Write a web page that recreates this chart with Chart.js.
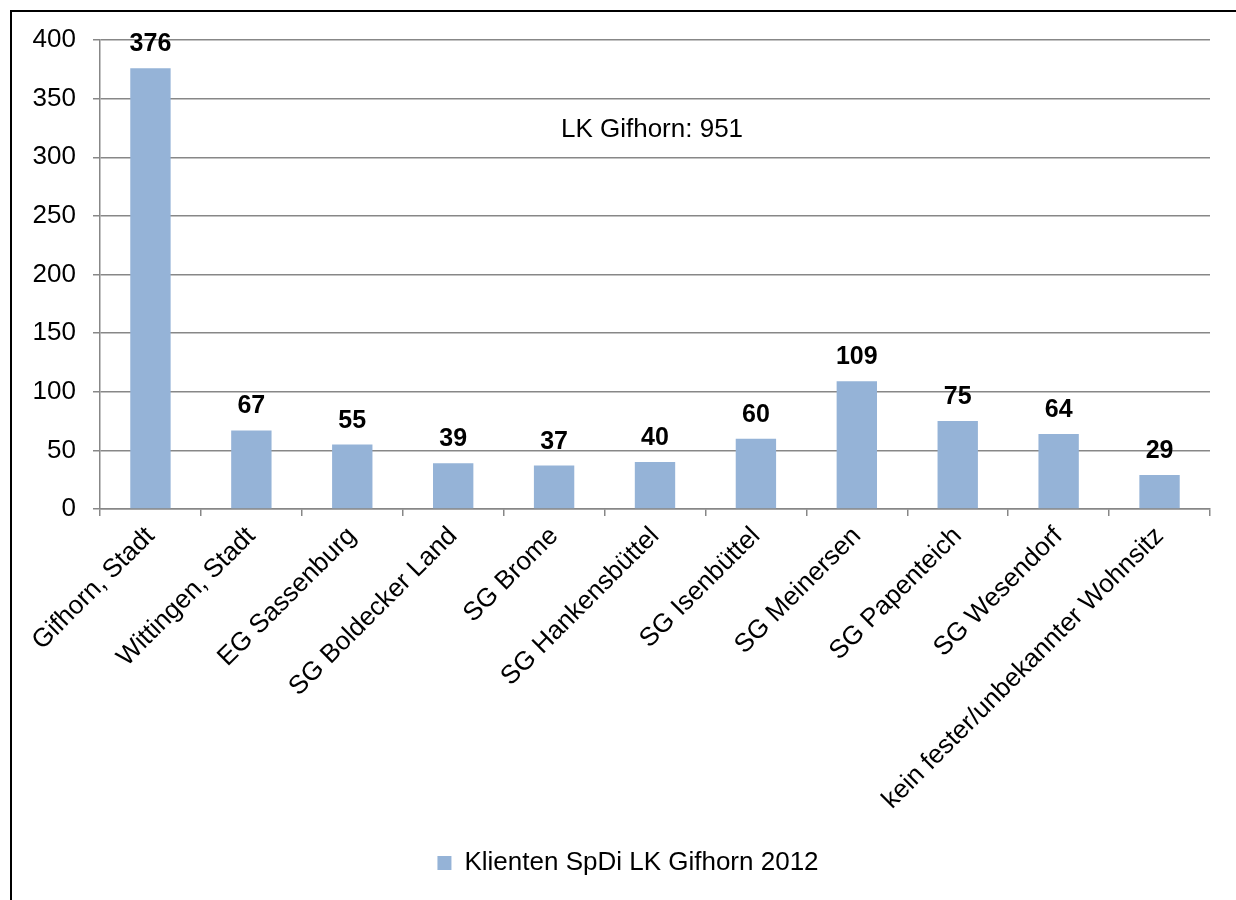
<!DOCTYPE html>
<html>
<head>
<meta charset="utf-8">
<script src="https://cdn.jsdelivr.net/npm/chart.js@4/dist/chart.umd.min.js"></script>
<style>
  html, body { margin: 0; padding: 0; background: #fff; }
  #wrap { width: 1236px; height: 900px; position: relative; }
</style>
</head>
<body>
<div id="wrap"><canvas id="c" width="1236" height="900"></canvas></div>
<script>
// Klienten des Sozialpsychiatrischen Dienstes 2012 nach Wohnort
const categories = [
  'Gifhorn, Stadt', 'Wittingen, Stadt', 'EG Sassenburg', 'SG Boldecker Land',
  'SG Brome', 'SG Hankensbüttel', 'SG Isenbüttel', 'SG Meinersen',
  'SG Papenteich', 'SG Wesendorf', 'kein fester/unbekannter Wohnsitz'
];
const clients = [376, 67, 55, 39, 37, 40, 60, 109, 75, 64, 29];
const seriesName = 'Klienten SpDi LK Gifhorn 2012';
const totalLabel = 'LK Gifhorn: 951';
const yTicks = [0, 50, 100, 150, 200, 250, 300, 350, 400];

const FONT = '"Liberation Sans", Arial, sans-serif';
const BAR = '#95b3d7';
const GRID = '#878787';

// outer frame of the chart object
const framePlugin = {
  id: 'frame',
  afterDraw(chart) {
    const ctx = chart.ctx;
    ctx.save();
    ctx.strokeStyle = '#000';
    ctx.lineWidth = 2;
    ctx.strokeRect(11, 11, 1400, 1200);
    ctx.restore();
  }
};

// centre the legend under the plot rather than the whole canvas
const legendShift = {
  id: 'legendShift',
  afterLayout(chart) {
    const lg = chart.legend;
    if (!lg) return;
    lg.left += 23;
    lg.right += 23;
  }
};

// value labels above the bars
const valueLabels = {
  id: 'valueLabels',
  afterDatasetsDraw(chart) {
    const ctx = chart.ctx;
    ctx.save();
    ctx.font = 'bold 25px ' + FONT;
    ctx.fillStyle = '#000';
    ctx.textAlign = 'center';
    ctx.textBaseline = 'alphabetic';
    chart.getDatasetMeta(0).data.forEach((bar, i) => {
      ctx.fillText(String(clients[i]), bar.x, bar.y - 17);
    });
    ctx.restore();
  }
};

// district total written inside the plot area
const totalNote = {
  id: 'totalNote',
  afterDraw(chart) {
    const { ctx, scales } = chart;
    ctx.save();
    ctx.font = '26px ' + FONT;
    ctx.fillStyle = '#000';
    ctx.textAlign = 'center';
    ctx.textBaseline = 'middle';
    ctx.fillText(totalLabel, scales.x.getPixelForValue(5) - 3, scales.y.getPixelForValue(323));
    ctx.restore();
  }
};

new Chart(document.getElementById('c'), {
  type: 'bar',
  data: {
    labels: categories,
    datasets: [{
      label: seriesName,
      data: clients,
      backgroundColor: BAR,
      borderWidth: 0,
      barPercentage: 0.4,
      categoryPercentage: 1.0
    }]
  },
  options: {
    responsive: false,
    animation: false,
    devicePixelRatio: 1,
    layout: { padding: { top: 40, right: 26, bottom: 14, left: 0 } },
    plugins: {
      legend: {
        position: 'bottom',
        labels: {
          font: { family: FONT, size: 26 },
          color: '#000',
          boxWidth: 14,
          boxHeight: 14,
          padding: 10
        }
      },
      tooltip: { enabled: false }
    },
    scales: {
      x: {
        grid: {
          drawOnChartArea: false,
          drawTicks: true,
          tickLength: 7,
          color: GRID,
          lineWidth: 1.5,
          offset: true
        },
        border: { color: GRID, width: 1.5 },
        ticks: {
          font: { family: FONT, size: 26 },
          color: '#000',
          minRotation: 45,
          maxRotation: 45,
          autoSkip: false,
          padding: 5
        },
        afterFit(scale) {
          const legendH = scale.chart.legend ? scale.chart.legend.height : 0;
          scale.height = 900 - 509 - legendH - 14;
        }
      },
      y: {
        min: 0,
        max: 400,
        afterBuildTicks(scale) {
          scale.ticks = yTicks.map(v => ({ value: v }));
        },
        grid: {
          color: GRID,
          lineWidth: 1.5,
          tickLength: 7
        },
        border: { color: GRID, width: 1.5 },
        ticks: {
          font: { family: FONT, size: 26 },
          color: '#000',
          padding: 17
        },
        afterFit(scale) { scale.width = 100; }
      }
    }
  },
  plugins: [framePlugin, legendShift, valueLabels, totalNote]
});
</script>
</body>
</html>
